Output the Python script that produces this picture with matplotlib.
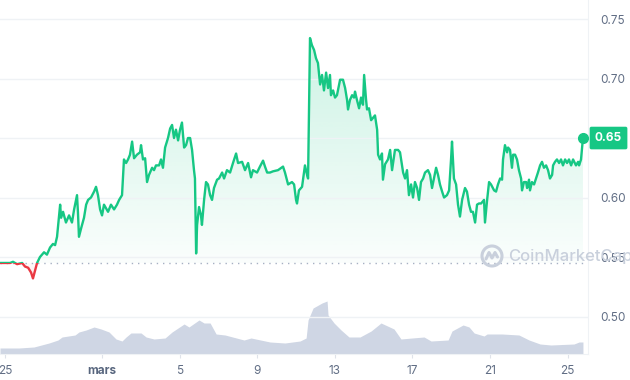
import numpy as np
import matplotlib
matplotlib.use('Agg')
import matplotlib.pyplot as plt
from matplotlib.patches import Rectangle, Circle

plt.rcParams['font.family'] = ['Inter', 'DejaVu Sans']

# days since 25 Feb 2024 00:00, price in USD
days = [-0.26, 0.26, 0.41, 0.62, 0.88, 1.03, 1.19, 1.34, 1.44, 1.55,
        1.65, 1.80, 2.01, 2.16, 2.32, 2.47, 2.58, 2.68, 2.84, 2.89,
        2.99, 3.14, 3.30, 3.45, 3.56, 3.71, 3.76, 3.81, 3.92, 4.07,
        4.18, 4.28, 4.43, 4.59, 4.69, 4.79, 4.90, 5.00, 5.10, 5.31,
        5.46, 5.62, 5.77, 5.88, 6.03, 6.13, 6.24, 6.34, 6.44, 6.55,
        6.65, 6.80, 6.96, 7.01, 7.11, 7.22, 7.32, 7.42, 7.58, 7.68,
        7.78, 7.94, 8.04, 8.14, 8.25, 8.40, 8.51, 8.61, 8.71, 8.81,
        8.92, 9.02, 9.12, 9.23, 9.33, 9.43, 9.54, 9.64, 9.74, 9.79,
        9.85, 9.90, 10.00, 10.10, 10.15, 10.26, 10.36, 10.46, 10.57, 10.67,
        10.77, 10.93, 11.03, 11.19, 11.29, 11.44, 11.60, 11.75, 11.91, 12.01,
        12.22, 12.37, 12.53, 12.68, 12.78, 12.99, 13.14, 13.30, 13.40, 13.51,
        13.66, 13.81, 14.07, 14.33, 14.43, 14.59, 14.79, 14.90, 15.00, 15.05,
        15.15, 15.31, 15.46, 15.57, 15.62, 15.72, 15.82, 15.93, 16.03, 16.13,
        16.24, 16.34, 16.44, 16.55, 16.65, 16.75, 16.80, 16.91, 17.01, 17.11,
        17.22, 17.27, 17.42, 17.53, 17.63, 17.68, 17.78, 17.89, 17.99, 18.04,
        18.14, 18.25, 18.35, 18.45, 18.51, 18.61, 18.66, 18.76, 18.87, 18.97,
        19.07, 19.18, 19.23, 19.33, 19.43, 19.48, 19.59, 19.74, 19.85, 19.95,
        20.10, 20.26, 20.36, 20.52, 20.62, 20.72, 20.82, 20.93, 21.03, 21.13,
        21.24, 21.34, 21.44, 21.55, 21.65, 21.80, 21.91, 22.01, 22.11, 22.22,
        22.32, 22.42, 22.53, 22.63, 22.78, 22.89, 22.99, 23.04, 23.14, 23.25,
        23.35, 23.45, 23.56, 23.71, 23.81, 23.92, 24.02, 24.12, 24.23, 24.33,
        24.43, 24.54, 24.59, 24.69, 24.74, 24.85, 24.95, 25.05, 25.21, 25.31,
        25.41, 25.52, 25.62, 25.67, 25.77, 25.88, 25.93, 26.03, 26.13, 26.19,
        26.29, 26.39, 26.49, 26.60, 26.65, 26.75, 26.86, 26.91, 27.01, 27.06,
        27.16, 27.27, 27.37, 27.47, 27.58, 27.68, 27.78, 27.89, 27.99, 28.09,
        28.20, 28.25, 28.35, 28.45, 28.56, 28.66, 28.76, 28.87, 28.97, 29.07,
        29.18, 29.28, 29.43, 29.54, 29.59, 29.69, 29.79]
prices = [0.545, 0.545, 0.546, 0.544, 0.545, 0.542, 0.541, 0.537, 0.532, 0.539,
          0.545, 0.550, 0.554, 0.552, 0.558, 0.561, 0.560, 0.567, 0.594, 0.583,
          0.588, 0.579, 0.585, 0.579, 0.590, 0.602, 0.587, 0.567, 0.574, 0.583,
          0.594, 0.598, 0.600, 0.605, 0.609, 0.602, 0.590, 0.585, 0.594, 0.588,
          0.594, 0.590, 0.594, 0.598, 0.602, 0.632, 0.629, 0.632, 0.636, 0.647,
          0.633, 0.636, 0.638, 0.644, 0.632, 0.633, 0.613, 0.619, 0.625, 0.623,
          0.627, 0.627, 0.632, 0.625, 0.642, 0.650, 0.658, 0.661, 0.650, 0.657,
          0.648, 0.657, 0.663, 0.642, 0.644, 0.650, 0.650, 0.640, 0.623, 0.616,
          0.553, 0.577, 0.592, 0.585, 0.577, 0.598, 0.613, 0.611, 0.602, 0.598,
          0.608, 0.615, 0.616, 0.621, 0.616, 0.623, 0.621, 0.629, 0.637, 0.629,
          0.630, 0.623, 0.629, 0.617, 0.623, 0.621, 0.626, 0.631, 0.626, 0.621,
          0.621, 0.622, 0.623, 0.626, 0.621, 0.611, 0.613, 0.611, 0.598, 0.595,
          0.606, 0.609, 0.627, 0.619, 0.616, 0.734, 0.728, 0.724, 0.717, 0.713,
          0.695, 0.703, 0.690, 0.705, 0.692, 0.703, 0.686, 0.690, 0.684, 0.686,
          0.695, 0.699, 0.699, 0.692, 0.682, 0.674, 0.682, 0.686, 0.684, 0.689,
          0.682, 0.675, 0.684, 0.678, 0.703, 0.682, 0.674, 0.675, 0.665, 0.667,
          0.669, 0.657, 0.636, 0.632, 0.637, 0.615, 0.628, 0.632, 0.640, 0.623,
          0.640, 0.640, 0.638, 0.621, 0.616, 0.623, 0.602, 0.611, 0.600, 0.613,
          0.608, 0.598, 0.613, 0.616, 0.621, 0.623, 0.619, 0.608, 0.616, 0.625,
          0.619, 0.611, 0.605, 0.600, 0.602, 0.606, 0.632, 0.647, 0.616, 0.611,
          0.594, 0.584, 0.598, 0.608, 0.605, 0.594, 0.588, 0.588, 0.579, 0.594,
          0.595, 0.595, 0.596, 0.598, 0.579, 0.598, 0.613, 0.611, 0.606, 0.605,
          0.611, 0.616, 0.615, 0.632, 0.644, 0.638, 0.642, 0.640, 0.625, 0.636,
          0.636, 0.632, 0.623, 0.616, 0.606, 0.613, 0.613, 0.608, 0.615, 0.606,
          0.613, 0.611, 0.616, 0.621, 0.627, 0.630, 0.625, 0.627, 0.623, 0.616,
          0.619, 0.627, 0.630, 0.632, 0.629, 0.632, 0.627, 0.632, 0.629, 0.632,
          0.627, 0.632, 0.627, 0.630, 0.627, 0.632, 0.650]

# 24h volume (millions USD)
vol_days = [-0.26, 0.72, 1.49, 2.27, 2.73, 2.94, 3.61, 3.81, 4.18, 4.59,
            4.95, 5.36, 5.72, 6.03, 6.24, 6.49, 7.01, 7.27, 7.68, 8.25,
            8.61, 9.23, 9.48, 10.00, 10.26, 10.57, 10.88, 11.34, 12.32, 12.68,
            13.66, 14.43, 15.21, 15.52, 15.62, 15.88, 16.34, 16.60, 16.65, 16.96,
            17.32, 17.73, 18.30, 18.87, 19.38, 20.05, 20.41, 20.98, 21.60, 21.96,
            22.84, 23.04, 23.61, 23.92, 24.18, 24.69, 24.85, 25.62, 26.49, 27.01,
            27.58, 28.14, 29.33, 29.59, 29.79]
volumes = [12, 12, 14, 22, 28, 34, 38, 44, 48, 54,
           50, 44, 30, 26, 34, 42, 42, 34, 30, 32,
           44, 60, 54, 68, 62, 62, 40, 38, 28, 32,
           24, 22, 26, 32, 68, 92, 102, 106, 78, 62,
           48, 34, 34, 46, 62, 50, 30, 32, 34, 26,
           28, 46, 58, 54, 42, 36, 40, 40, 38, 28,
           20, 18, 20, 24, 24]

tick_days = [0, 5, 9, 13, 17, 21, 25, 29]
tick_labels = ['25', 'mars', '5', '9', '13', '17', '21', '25']
y_ticks = [0.50, 0.55, 0.60, 0.65, 0.70, 0.75]
open_price = 0.545
last_price = 0.65

green = '#16c784'
red = '#ea3943'
grid_col = '#eff2f5'
label_col = '#616e85'

xmin, xmax = -0.26, 30.05
ymin, ymax = 0.4685, 0.766

fig = plt.figure(figsize=(6.3, 3.8), dpi=100)
rect = [0, 26 / 380, 588 / 630, 354 / 380]

# volume underneath
ax_vol = fig.add_axes(rect)
ax_vol.fill_between(vol_days, volumes, 0, color='#cfd6e4', lw=0)
ax_vol.set_xlim(xmin, xmax)
ax_vol.set_ylim(0, 708)
ax_vol.axis('off')

ax = fig.add_axes(rect)
ax.patch.set_alpha(0)
d = np.array(days)
p = np.array(prices)

# gradient fill above / below the opening price
def grad_fill(lo, hi, rgb, a_lo, a_hi, upper):
    img = np.zeros((256, 1, 4))
    img[..., :3] = matplotlib.colors.to_rgb(rgb)
    img[..., 3] = np.linspace(a_lo, a_hi, 256).reshape(-1, 1)
    im = ax.imshow(img, extent=[xmin, xmax, lo, hi], origin='lower',
                   aspect='auto', zorder=1, interpolation='bilinear')
    if upper:
        poly = ax.fill_between(d, np.maximum(p, open_price), open_price, color='none', lw=0)
    else:
        poly = ax.fill_between(d, np.minimum(p, open_price), open_price, color='none', lw=0)
    im.set_clip_path(poly.get_paths()[0], transform=ax.transData)

grad_fill(open_price, p.max(), green, 0.02, 0.22, True)
grad_fill(p.min(), open_price, red, 0.12, 0.02, False)

# line: green above open, red below
up_clip = Rectangle((xmin, open_price), xmax - xmin, 1, transform=ax.transData)
dn_clip = Rectangle((xmin, open_price - 1), xmax - xmin, 1, transform=ax.transData)
l1, = ax.plot(d, p, color=green, lw=1.7, zorder=3, solid_joinstyle='round')
l1.set_clip_path(up_clip)
l2, = ax.plot(d, p, color=red, lw=1.7, zorder=3, solid_joinstyle='round')
l2.set_clip_path(dn_clip)
ax.plot(d[-1], p[-1], 'o', color=green, ms=7, zorder=4, clip_on=False)

ax.axhline(open_price, color='#a6b0c3', lw=1, ls=(0, (1, 3.5)), zorder=2)

ax.set_xlim(xmin, xmax)
ax.set_ylim(ymin, ymax)
ax.set_yticks(y_ticks)
# 0.65 sits under the current-price tag
ax.set_yticklabels(['' if v == last_price else '%.2f' % v for v in y_ticks])
ax.yaxis.tick_right()
ax.grid(axis='y', color=grid_col, lw=1)
ax.set_xticks(tick_days)
ax.set_xticklabels(tick_labels)
ax.tick_params(axis='y', length=0, pad=9, labelsize=8.5, labelcolor=label_col)
ax.tick_params(axis='x', length=3, color='#dfe3ea', pad=5, labelsize=8.5, labelcolor=label_col)
ax.get_xticklabels()[1].set_fontweight('bold')
ax.get_xticklabels()[1].set_color('#58667e')
for s in ['top', 'left']:
    ax.spines[s].set_visible(False)
ax.spines['right'].set_color('#eff2f5')
ax.spines['bottom'].set_color('#eff2f5')

# current price tag
ax.annotate('%.2f' % last_price, xy=(1, last_price), xycoords=('axes fraction', 'data'),
            xytext=(5, 0), textcoords='offset points', ha='left', va='center',
            color='white', fontsize=8.5, fontweight='bold', zorder=10,
            bbox=dict(boxstyle='round,pad=0.45,rounding_size=0.15', fc=green, ec='none'),
            annotation_clip=False)

# watermark
fig.text(508 / 630, 1 - 256 / 380, 'CoinMarketCap', fontsize=12, color='#c9d0dc',
         va='center', ha='left', zorder=0, fontweight='medium')
ax_logo = fig.add_axes([480 / 630, 1 - 268 / 380, 24 / 630, 24 / 380])
ax_logo.set_xlim(-1.2, 1.2)
ax_logo.set_ylim(-1.2, 1.2)
ax_logo.set_aspect('equal')
ax_logo.axis('off')
ax_logo.add_patch(Circle((0, 0), 1, fill=False, ec='#c9d0dc', lw=2.2))
ax_logo.plot([-0.6, -0.3, 0.0, 0.3, 0.55], [-0.3, 0.35, -0.2, 0.35, -0.1],
             color='#c9d0dc', lw=2.2, solid_capstyle='round')

fig.savefig('out.png', dpi=100)
